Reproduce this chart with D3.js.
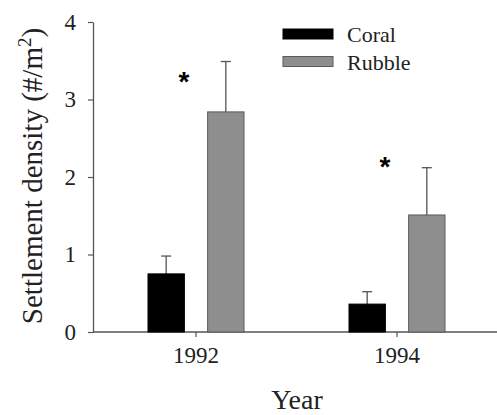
<!DOCTYPE html>
<html>
<head>
<meta charset="utf-8">
<script src="https://cdn.jsdelivr.net/npm/d3@7"></script>
<style>
  body { margin: 0; background: #fff; }
  svg { display: block; }
  svg text { font-family: "Liberation Serif", "Times New Roman", serif; }
</style>
</head>
<body>
<div id="chart"></div>
<script>
"use strict";
// data
var years = ["1992", "1994"];
var series = ["Coral", "Rubble"];
var coralMean = [0.75, 0.36];
var coralSE = [0.23, 0.16];
var rubbleMean = [2.84, 1.51];
var rubbleSE = [0.65, 0.61];
var signif = [true, true];
var sigLevel = [3.32, 2.22];   // height of the asterisks, in data units
var yTicks = [0, 1, 2, 3, 4];

(function() {
  var W = 497, H = 415;
  var left = 93, top = 22, bottom = 332;
  var colors = { Coral: "#000000", Rubble: "#8e8e8e" };
  var strokes = { Coral: "#000000", Rubble: "#5a5a5a" };
  var axisColor = "#555";
  var serif = "Liberation Serif";

  var rows = years.map(function(yr, i) {
    return {
      year: yr,
      sig: signif[i],
      sigY: sigLevel[i],
      vals: [
        { key: "Coral", mean: coralMean[i], se: coralSE[i] },
        { key: "Rubble", mean: rubbleMean[i], se: rubbleSE[i] }
      ]
    };
  });

  var svg = d3.select("#chart").append("svg")
    .attr("width", W)
    .attr("height", H);

  var y = d3.scaleLinear().domain([0, 4]).range([bottom, top]);
  var x0 = d3.scaleBand().domain(years).range([95.5, 497.5]).padding(0);
  var x1 = d3.scaleBand().domain(series).range([-48, 48]).paddingInner(0.39).paddingOuter(0);

  // y axis
  var yAxis = svg.append("g")
    .attr("transform", "translate(" + left + ",0)")
    .call(d3.axisLeft(y).tickValues(yTicks).tickFormat(d3.format("d")).tickSize(5).tickSizeOuter(0).tickPadding(12));
  yAxis.attr("font-family", serif).attr("font-size", 23);
  yAxis.select(".domain").attr("stroke", axisColor).attr("stroke-width", 1.3);
  yAxis.selectAll(".tick line").attr("stroke", axisColor).attr("stroke-width", 1.2);
  yAxis.selectAll(".tick text").attr("fill", "#222");

  // x axis
  var xAxis = svg.append("g")
    .attr("transform", "translate(0," + bottom + ")")
    .call(d3.axisBottom(x0).tickSize(5).tickSizeOuter(0).tickPadding(10));
  xAxis.attr("font-family", serif).attr("font-size", 23);
  xAxis.select(".domain").remove();
  xAxis.append("line")
    .attr("x1", left).attr("x2", W)
    .attr("stroke", axisColor).attr("stroke-width", 1.3);
  xAxis.selectAll(".tick line").attr("stroke", axisColor).attr("stroke-width", 1.2);
  xAxis.selectAll(".tick text").attr("fill", "#222");

  // groups
  var groups = svg.selectAll(".grp")
    .data(rows)
    .enter().append("g")
    .attr("class", "grp")
    .attr("transform", function(d) { return "translate(" + (x0(d.year) + x0.bandwidth() / 2) + ",0)"; });

  // error bars (upper only) drawn first so the bar covers the stem
  var err = groups.selectAll(".err")
    .data(function(d) { return d.vals; })
    .enter().append("g")
    .attr("class", "err")
    .attr("stroke", "#555")
    .attr("stroke-width", 1.3);
  err.append("line")
    .attr("x1", function(d) { return x1(d.key) + x1.bandwidth() / 2; })
    .attr("x2", function(d) { return x1(d.key) + x1.bandwidth() / 2; })
    .attr("y1", function(d) { return y(d.mean); })
    .attr("y2", function(d) { return y(d.mean + d.se); });
  err.append("line")
    .attr("x1", function(d) { return x1(d.key) + x1.bandwidth() / 2 - 5; })
    .attr("x2", function(d) { return x1(d.key) + x1.bandwidth() / 2 + 5; })
    .attr("y1", function(d) { return y(d.mean + d.se); })
    .attr("y2", function(d) { return y(d.mean + d.se); });

  groups.selectAll(".bar")
    .data(function(d) { return d.vals; })
    .enter().append("rect")
    .attr("class", "bar")
    .attr("x", function(d) { return x1(d.key); })
    .attr("width", x1.bandwidth())
    .attr("y", function(d) { return y(d.mean); })
    .attr("height", function(d) { return y(0) - y(d.mean); })
    .attr("fill", function(d) { return colors[d.key]; })
    .attr("stroke", function(d) { return strokes[d.key]; })
    .attr("stroke-width", 1);

  // significance asterisks
  groups.filter(function(d) { return d.sig; })
    .append("text")
    .attr("x", -12)
    .attr("y", function(d) { return y(d.sigY) + 16; })
    .attr("text-anchor", "middle")
    .style("font-family", "Liberation Sans")
    .attr("font-weight", "bold")
    .attr("font-size", 28)
    .text("*");

  // legend
  var legend = svg.append("g").attr("transform", "translate(283,29)");
  var li = legend.selectAll(".li")
    .data(series)
    .enter().append("g")
    .attr("class", "li")
    .attr("transform", function(d, i) { return "translate(0," + (i * 27.5) + ")"; });
  li.append("rect")
    .attr("width", 50).attr("height", 10)
    .attr("fill", function(d) { return colors[d]; })
    .attr("stroke", function(d) { return strokes[d]; });
  li.append("text")
    .attr("x", 64).attr("y", 13)
    .attr("font-size", 22)
    .attr("fill", "#222")
    .text(function(d) { return d; });

  // axis titles
  svg.append("text")
    .attr("x", 297).attr("y", 409)
    .attr("text-anchor", "middle")
    .attr("font-size", 28)
    .attr("fill", "#222")
    .text("Year");

  var yt = svg.append("text")
    .attr("transform", "translate(42,176) rotate(-90)")
    .attr("text-anchor", "middle")
    .attr("font-size", 29)
    .attr("fill", "#222");
  yt.append("tspan").text("Settlement density (#/m");
  yt.append("tspan").attr("dy", -11).attr("font-size", 19).text("2");
  yt.append("tspan").attr("dy", 11).text(")");
})();
</script>
</body>
</html>
